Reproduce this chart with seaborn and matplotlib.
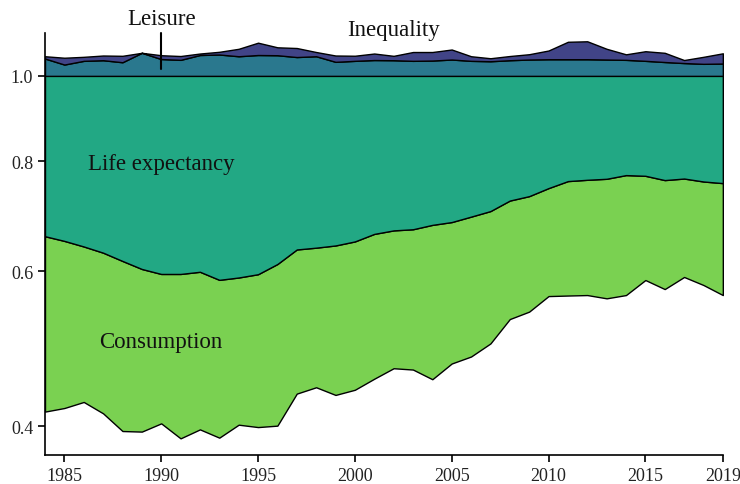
import numpy as np
import seaborn as sns
import matplotlib
matplotlib.use("Agg")
import matplotlib.pyplot as plt
from matplotlib.ticker import FixedLocator, NullLocator, FixedFormatter

years = list(range(1984, 2020))

# lower edge of the consumption band (white below)
base = [0.4154, 0.4193, 0.4260, 0.4135, 0.3948, 0.3942, 0.4028, 0.3873, 0.3965,
        0.3880, 0.4014, 0.3989, 0.4004, 0.4354, 0.4427, 0.4339, 0.4398, 0.4527,
        0.4653, 0.4637, 0.4521, 0.4711, 0.4798, 0.4965, 0.5292, 0.5396, 0.5620,
        0.5628, 0.5635, 0.5587, 0.5635, 0.5861, 0.5724, 0.5908, 0.5785, 0.5635]

# upper edge of the consumption band
consumption = [0.6573, 0.6493, 0.6399, 0.6296, 0.6161, 0.6033, 0.5955, 0.5955, 0.5989,
               0.5864, 0.5900, 0.5951, 0.6112, 0.6349, 0.6379, 0.6416, 0.6484, 0.6613,
               0.6674, 0.6694, 0.6771, 0.6821, 0.6919, 0.7020, 0.7216, 0.7300, 0.7455,
               0.7593, 0.7619, 0.7639, 0.7713, 0.7699, 0.7613, 0.7644, 0.7585, 0.7553]

# life expectancy fills up to 1.0
life_top = [1.0] * len(years)

# upper edge of the leisure band
leisure = [1.0464, 1.0301, 1.0401, 1.0418, 1.0363, 1.0622, 1.0450, 1.0428, 1.0561,
           1.0575, 1.0527, 1.0561, 1.0555, 1.0505, 1.0527, 1.0374, 1.0401, 1.0423,
           1.0418, 1.0401, 1.0409, 1.0437, 1.0401, 1.0390, 1.0418, 1.0437, 1.0445,
           1.0445, 1.0445, 1.0437, 1.0428, 1.0401, 1.0369, 1.0341, 1.0320, 1.0328]

# upper edge of the inequality band
inequality = [1.0527, 1.0486, 1.0511, 1.0547, 1.0539, 1.0622, 1.0555, 1.0533, 1.0602,
              1.0650, 1.0734, 1.0907, 1.0776, 1.0756, 1.0644, 1.0547, 1.0541, 1.0602,
              1.0538, 1.0644, 1.0644, 1.0714, 1.0527, 1.0472, 1.0533, 1.0583, 1.0686,
              1.0933, 1.0947, 1.0734, 1.0580, 1.0666, 1.0622, 1.0423, 1.0511, 1.0608]

x_ticks = [1985, 1990, 1995, 2000, 2005, 2010, 2015, 2019]
y_ticks = [0.4, 0.6, 0.8, 1.0]
y_tick_labels = ["0.4", "0.6", "0.8", "1.0"]

sns.set_theme(style="ticks")
plt.rcParams["font.family"] = ["Liberation Serif", "DejaVu Serif"]
plt.rcParams["font.size"] = 12.5

pal = sns.color_palette("viridis", 4)
c_ineq, c_leis, c_life, c_cons = pal[0], pal[1], pal[2], pal[3]

fig = plt.figure(figsize=(7.4, 4.85), dpi=100)
ax = fig.add_axes([0.0608, 0.0598, 0.916, 0.871])

ax.set_yscale("log")
edge = dict(edgecolor="black", linewidth=1.0)
ax.fill_between(years, base, consumption, facecolor=c_cons, **edge)
ax.fill_between(years, consumption, life_top, facecolor=c_life, **edge)
ax.fill_between(years, life_top, leisure, facecolor=c_leis, **edge)
ax.fill_between(years, leisure, inequality, facecolor=c_ineq, **edge)

ax.set_xlim(1984, 2019)
ax.set_ylim(0.3708, 1.12)
ax.yaxis.set_major_locator(FixedLocator(y_ticks))
ax.yaxis.set_major_formatter(FixedFormatter(y_tick_labels))
ax.yaxis.set_minor_locator(NullLocator())
ax.set_xticks(x_ticks)
ax.set_xticklabels([str(t) for t in x_ticks])
ax.tick_params(axis="both", labelsize=13, length=5, width=1.2, color="black",
               labelcolor="#222222")
for s in ["left", "bottom"]:
    ax.spines[s].set_color("black")
    ax.spines[s].set_linewidth(1.2)
sns.despine(ax=ax)
ax.set_xlabel("")
ax.set_ylabel("")

lab = 16.5
ax.text(1990, 0.7945, "Life expectancy", ha="center", va="center", fontsize=lab,
        color="#111111")
ax.text(1990, 0.4995, "Consumption", ha="center", va="center", fontsize=lab,
        color="#111111")
ax.text(1990, 1.162, "Leisure", ha="center", va="center", fontsize=lab,
        color="#111111", clip_on=False)
ax.plot([1990, 1990], [1.0175, 1.12], color="black", linewidth=1.5, clip_on=False)
ax.text(2002, 1.129, "Inequality", ha="center", va="center", fontsize=lab,
        color="#111111", clip_on=False)

fig.savefig("out.png", dpi=100)
